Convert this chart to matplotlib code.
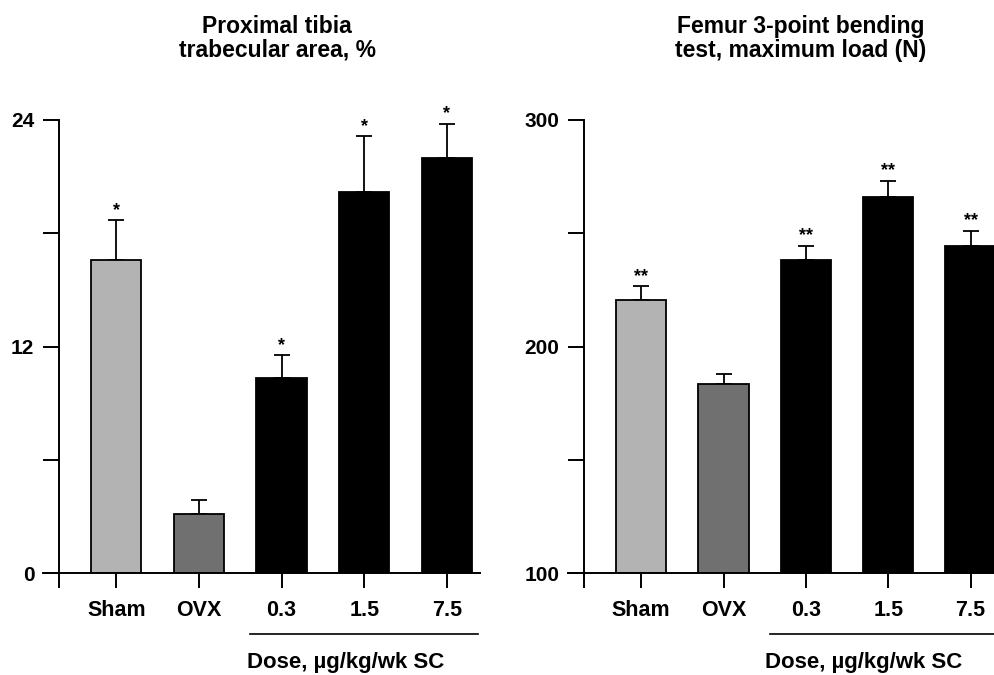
import matplotlib
matplotlib.use('Agg')
import matplotlib.pyplot as plt
import matplotlib.transforms as mtransforms
import numpy as np

plt.rcParams['font.family'] = ['Liberation Sans', 'DejaVu Sans']
plt.rcParams['font.weight'] = 'bold'

# data
groups = ['Sham', 'OVX', '0.3', '1.5', '7.5']
bar_colors = ['#b3b3b3', '#707070', '#000000', '#000000', '#000000']

tibia_mean = [16.6, 3.15, 10.35, 20.2, 22.0]
tibia_err = [2.1, 0.75, 1.2, 2.95, 1.8]
tibia_sig = ['*', '', '*', '*', '*']
tibia_ticks = [0, 6, 12, 18, 24]
tibia_ticklabels = ['0', '', '12', '', '24']

load_mean = [220.7, 183.3, 238.0, 266.1, 244.2]
load_err = [6.0, 4.8, 6.5, 7.0, 6.9]
load_sig = ['**', '', '**', '**', '**']
load_ticks = [100, 150, 200, 250, 300]
load_ticklabels = ['100', '', '200', '', '300']

tibia_title = ['Proximal tibia', 'trabecular area, %']
load_title = ['Femur 3-point bending', 'test, maximum load (N)']
dose_label = 'Dose, \u00b5g/kg/wk SC'

fig = plt.figure(figsize=(9.94, 6.75), dpi=100)
ax1 = fig.add_axes([0.0433, 0.1507, 0.4396, 0.6716])
ax2 = fig.add_axes([0.5714, 0.1507, 0.4381, 0.6716])


def draw_panel(ax, mean, err, sig, ticks, ticklabels, spine_x, x_right, dose_x0, dose_xc):
    x = np.arange(len(groups))
    base = ticks[0]
    ax.bar(x, np.array(mean) - base, bottom=base, width=0.61, color=bar_colors,
           edgecolor='black', linewidth=1.3, zorder=2)
    ax.errorbar(x, mean, yerr=[np.zeros(len(err)), err], fmt='none', ecolor='black',
                elinewidth=1.3, capsize=5.5, capthick=1.3, zorder=1)
    for xi, m, e, s in zip(x, mean, err, sig):
        if s:
            ax.annotate(s, (xi, m + e), xytext=(0, 1), textcoords='offset points',
                        ha='center', va='bottom', fontsize=13, annotation_clip=False)

    ax.set_ylim(ticks[0], ticks[-1])
    ax.set_xlim(spine_x - 0.19, x_right)
    ax.spines['top'].set_visible(False)
    ax.spines['right'].set_visible(False)
    ax.spines['left'].set_position(('data', spine_x))
    for sp in ('left', 'bottom'):
        ax.spines[sp].set_linewidth(1.4)

    ax.set_yticks(ticks)
    ax.set_yticklabels(ticklabels, fontsize=15, fontweight='bold')
    ax.set_xticks([spine_x] + list(x))
    ax.set_xticklabels([''] + groups, fontsize=15.5, fontweight='bold')
    ax.tick_params(axis='y', length=11.5, width=1.4, pad=6)
    ax.tick_params(axis='x', length=11, width=1.4, pad=8)

    trans = mtransforms.blended_transform_factory(ax.transData, ax.transAxes)
    ax.plot([dose_x0, x_right - 0.03], [-0.134, -0.134], color='black', lw=1.2,
            transform=trans, clip_on=False)
    ax.text(dose_xc, -0.197, dose_label, transform=trans, ha='center', va='center',
            fontsize=16, fontweight='bold')


draw_panel(ax1, tibia_mean, tibia_err, tibia_sig, tibia_ticks, tibia_ticklabels,
           -0.696, 4.40, 1.62, 2.77)
draw_panel(ax2, load_mean, load_err, load_sig, load_ticks, load_ticklabels,
           -0.70, 4.40, 1.56, 2.70)

# two-line titles, placed by baseline
for xc, lines in ((0.2787, tibia_title), (0.8058, load_title)):
    for yb, line in zip((33, 56.7), lines):
        fig.text(xc, 1 - yb / 675, line, ha='center', va='baseline',
                 fontsize=16.5, fontweight='bold')

fig.savefig('out.png', dpi=100, facecolor='white')
